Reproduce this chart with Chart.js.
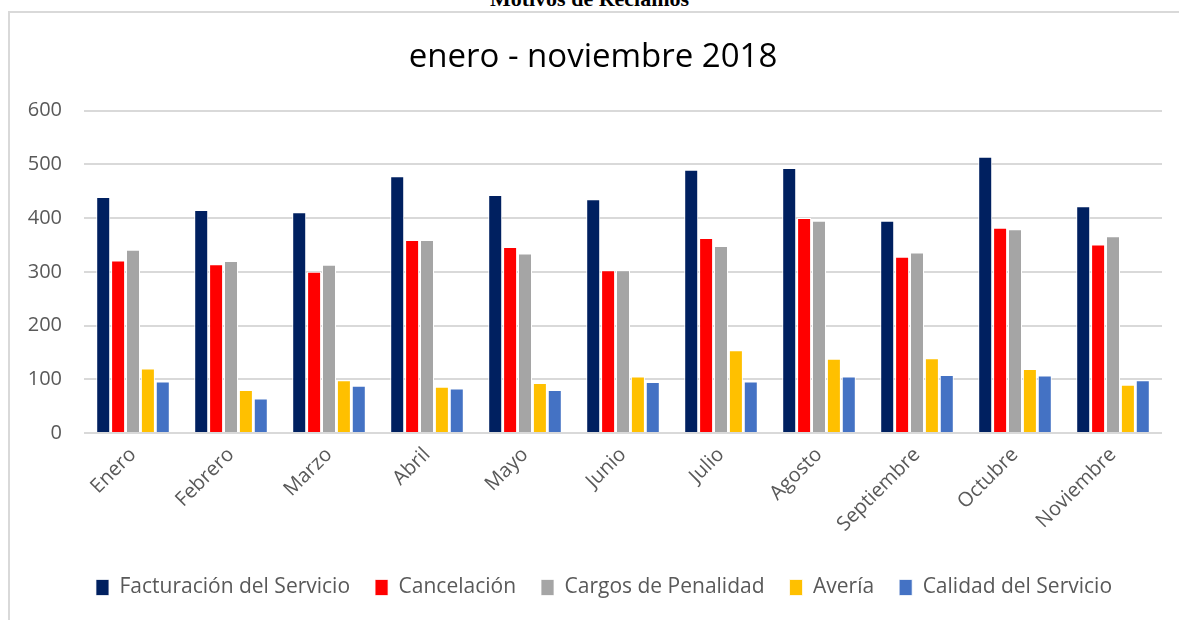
<!DOCTYPE html>
<html>
<head>
<meta charset="utf-8">
<script src="https://cdn.jsdelivr.net/npm/chart.js@4/dist/chart.umd.min.js"></script>
<style>
  body { margin: 0; background: #fff; width: 1179px; height: 620px; overflow: hidden; position: relative; }
  #caption { position: absolute; top: -14px; left: 0; width: 1179px; text-align: center;
    font: bold 22px "Liberation Serif", "Times New Roman", serif; color: #000; }
  #box { position: absolute; left: 8px; top: 11px; width: 1180px; height: 620px;
    border: 2px solid #d9d9d9; box-sizing: border-box; }
  #chartWrap { position: absolute; left: 4px; top: 0; width: 1166px; height: 607px; }
</style>
</head>
<body>
<div id="caption">Motivos de Reclamos</div>
<div id="box"><div id="chartWrap"><canvas id="reclamosChart"></canvas></div></div>
<script>
const months = ["Enero", "Febrero", "Marzo", "Abril", "Mayo", "Junio", "Julio", "Agosto", "Septiembre", "Octubre", "Noviembre"];
const facturacion = [439, 415, 411, 478, 443, 435, 490, 493, 395, 514, 422];
const cancelacion = [321, 314, 300, 359, 346, 303, 363, 400, 328, 382, 351];
const cargos = [341, 320, 313, 359, 334, 303, 348, 395, 336, 379, 366];
const averia = [120, 80, 98, 86, 93, 105, 154, 138, 139, 119, 90];
const calidad = [96, 64, 88, 83, 80, 95, 96, 105, 108, 107, 98];
const yTicks = [0, 100, 200, 300, 400, 500, 600];

const FONT = "'Open Sans', 'Noto Sans', sans-serif";

function makeSet(label, data, color) {
  return {
    label, data,
    backgroundColor: color,
    borderColor: "#ffffff",
    borderWidth: { top: 1, left: 1, right: 1, bottom: 0 },
    categoryPercentage: 0.76,
    barPercentage: 0.94
  };
}

// legend in the original sits a little right of centre
const legendShift = {
  id: "legendShift",
  afterLayout(chart) {
    chart.legend.left += 11;
    chart.legend.right += 11;
  }
};

const ctx = document.getElementById("reclamosChart");
new Chart(ctx.getContext("2d"), {
  type: "bar",
  data: {
    labels: months,
    datasets: [
      makeSet("Facturación del Servicio", facturacion, "#002060"),
      makeSet("Cancelación", cancelacion, "#FF0000"),
      makeSet("Cargos de Penalidad", cargos, "#A5A5A5"),
      makeSet("Avería", averia, "#FFC000"),
      makeSet("Calidad del Servicio", calidad, "#4472C4")
    ]
  },
  plugins: [legendShift],
  options: {
    responsive: true,
    maintainAspectRatio: false,
    animation: false,
    layout: { padding: { left: 10, right: 18, top: 10, bottom: 12 } },
    plugins: {
      title: {
        display: true,
        text: "enero - noviembre 2018",
        color: "#000",
        font: { family: FONT, size: 33, weight: "normal" },
        padding: { top: 15, bottom: 33 }
      },
      legend: {
        position: "bottom",
        labels: {
          color: "#595959",
          font: { family: FONT, size: 21 },
          boxWidth: 13,
          boxHeight: 16,
          padding: 25
        }
      },
      tooltip: { enabled: false }
    },
    scales: {
      x: {
        grid: { display: false },
        border: { display: false },
        afterFit: (axis) => { axis.height = 119; },
        ticks: {
          color: "#595959",
          font: { family: FONT, size: 20 },
          minRotation: 45,
          maxRotation: 45,
          padding: 2
        }
      },
      y: {
        min: 0, max: 600,
        afterBuildTicks: (axis) => { axis.ticks = yTicks.map(v => ({ value: v })); },
        afterFit: (axis) => { axis.width = 60; },
        grid: { color: "#d9d9d9", lineWidth: 2, drawTicks: false },
        border: { display: false },
        ticks: {
          color: "#595959",
          font: { family: FONT, size: 20 },
          padding: 22
        }
      }
    }
  }
});
</script>
</body>
</html>
